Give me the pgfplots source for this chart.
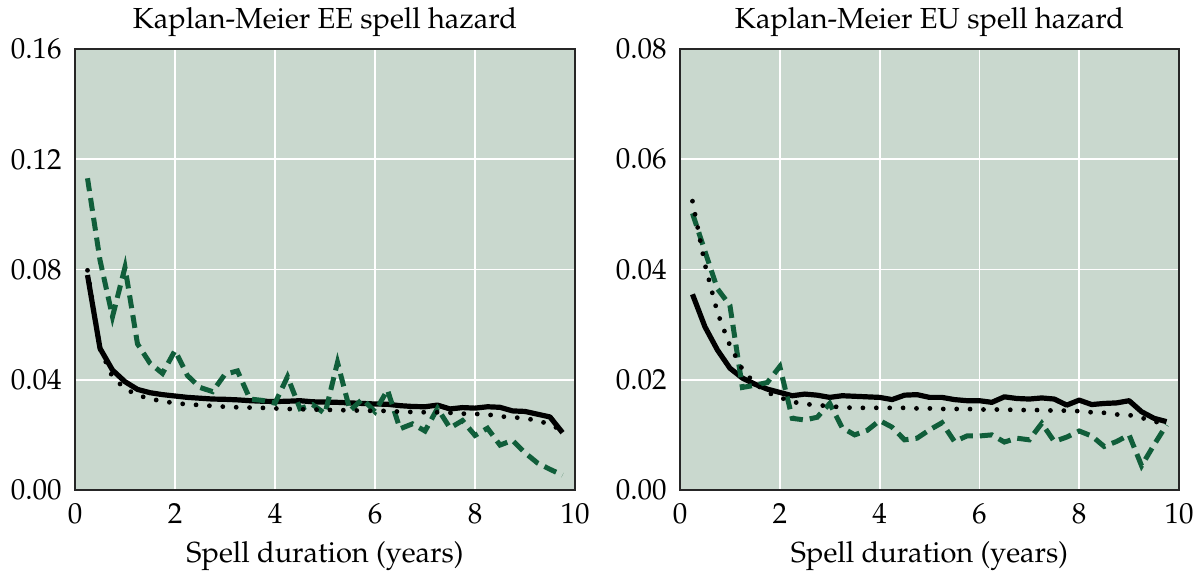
\documentclass[border=0pt]{standalone}
\usepackage[T1]{fontenc}
\usepackage{mathpazo}
\usepackage{pgfplots}
\pgfplotsset{compat=1.18}
\definecolor{bgc}{RGB}{201,216,206}
\definecolor{dgreen}{RGB}{16,94,58}

\pgfplotstableread{
x solid dotted dashed
0.25 0.0780 0.0797 0.1131
0.50 0.0514 0.0512 0.0834
0.75 0.0435 0.0410 0.0629
1.00 0.0393 0.0368 0.0808
1.25 0.0365 0.0344 0.0530
1.50 0.0353 0.0331 0.0460
1.75 0.0346 0.0322 0.0423
2.00 0.0341 0.0315 0.0506
2.25 0.0336 0.0311 0.0415
2.50 0.0333 0.0308 0.0372
2.75 0.0330 0.0305 0.0357
3.00 0.0329 0.0302 0.0420
3.25 0.0327 0.0300 0.0432
3.50 0.0324 0.0299 0.0330
3.75 0.0322 0.0298 0.0325
4.00 0.0321 0.0296 0.0315
4.25 0.0322 0.0294 0.0411
4.50 0.0324 0.0293 0.0295
4.75 0.0320 0.0292 0.0310
5.00 0.0319 0.0291 0.0277
5.25 0.0318 0.0290 0.0463
5.50 0.0316 0.0289 0.0288
5.75 0.0314 0.0288 0.0330
6.00 0.0312 0.0287 0.0284
6.25 0.0311 0.0287 0.0363
6.50 0.0306 0.0284 0.0222
6.75 0.0303 0.0283 0.0240
7.00 0.0302 0.0282 0.0214
7.25 0.0308 0.0282 0.0296
7.50 0.0294 0.0280 0.0225
7.75 0.0299 0.0277 0.0252
8.00 0.0297 0.0276 0.0198
8.25 0.0302 0.0274 0.0224
8.50 0.0300 0.0267 0.0163
8.75 0.0287 0.0264 0.0180
9.00 0.0285 0.0260 0.0135
9.25 0.0275 0.0252 0.0098
9.50 0.0265 0.0238 0.0075
9.75 0.0208 0.0215 0.0054
}\EEtable

\pgfplotstableread{
x solid dotted dashed
0.25 0.0355 0.0524 0.0502
0.50 0.0296 0.0409 0.0433
0.75 0.0254 0.0322 0.0365
1.00 0.0221 0.0262 0.0335
1.25 0.0203 0.0219 0.0186
1.50 0.0192 0.0193 0.0190
1.75 0.0183 0.0177 0.0195
2.00 0.0177 0.0168 0.0224
2.25 0.0171 0.0160 0.0130
2.50 0.0174 0.0156 0.0127
2.75 0.0172 0.0154 0.0132
3.00 0.0168 0.0152 0.0157
3.25 0.0171 0.0150 0.0113
3.50 0.0170 0.0149 0.0100
3.75 0.0169 0.0149 0.0108
4.00 0.0168 0.0149 0.0126
4.25 0.0164 0.0149 0.0114
4.50 0.0172 0.0149 0.0091
4.75 0.0173 0.0148 0.0094
5.00 0.0168 0.0148 0.0109
5.25 0.0168 0.0147 0.0122
5.50 0.0164 0.0147 0.0088
5.75 0.0162 0.0147 0.0098
6.00 0.0162 0.0146 0.0098
6.25 0.0159 0.0146 0.0100
6.50 0.0169 0.0146 0.0087
6.75 0.0166 0.0145 0.0094
7.00 0.0165 0.0145 0.0091
7.25 0.0167 0.0145 0.0121
7.50 0.0165 0.0144 0.0088
7.75 0.0154 0.0144 0.0096
8.00 0.0163 0.0143 0.0107
8.25 0.0155 0.0141 0.0098
8.50 0.0157 0.0140 0.0079
8.75 0.0158 0.0137 0.0088
9.00 0.0162 0.0136 0.0100
9.25 0.0142 0.0131 0.0044
9.50 0.0130 0.0124 0.0082
9.75 0.0124 0.0121 0.0118
}\EUtable

\begin{document}
\fontsize{14.5bp}{17bp}\selectfont
\begin{tikzpicture}
\useasboundingbox (0,0) rectangle (600bp,287bp);
\pgfplotsset{
  myax/.style={
    scale only axis, width=250bp, height=220.5bp,
    anchor=south west,
    xmin=0, xmax=10, ymin=0,
    xtick={0,2,4,6,8,10},
    axis background/.style={fill=bgc},
    grid=major, major grid style={white, line width=0.9bp},
    major tick length=0pt,
    axis line style={black!85, line width=0.8bp},
    xticklabel style={anchor=north, inner sep=0pt, yshift=-6.5bp},
    yticklabel style={anchor=east, inner sep=0pt, xshift=-6.5bp},
    yticklabel={\pgfmathprintnumber[fixed,fixed zerofill,precision=2]{\tick}},
    scaled y ticks=false,
    xlabel={Spell duration (years)},
    xlabel style={at={(axis description cs:0.5,0)}, anchor=base, inner sep=0pt, yshift=-36bp},
    title style={at={(axis description cs:0.5,1)}, anchor=base, inner sep=0pt, yshift=4.5bp},
  },
  solidl/.style={black, line width=2.6bp, line join=round, no marks},
  dotl/.style={black, line width=2.4bp, line cap=round, dash pattern=on 0bp off 6.7bp, no marks},
  dashl/.style={dgreen, line width=2.5bp, dash pattern=on 6.5bp off 3.5bp, no marks},
}
\begin{axis}[myax, at={(37.5bp,42bp)}, ymax=0.16, ytick={0,0.04,0.08,0.12,0.16},
  title={Kaplan-Meier EE spell hazard}]
\addplot[solidl] table[x=x,y=solid] {\EEtable};
\addplot[dashl] table[x=x,y=dashed] {\EEtable};
\addplot[dotl] table[x=x,y=dotted] {\EEtable};
\end{axis}
\begin{axis}[myax, at={(340bp,42bp)}, width=249.5bp, ymax=0.08, ytick={0,0.02,0.04,0.06,0.08},
  title={Kaplan-Meier EU spell hazard}]
\addplot[solidl] table[x=x,y=solid] {\EUtable};
\addplot[dashl] table[x=x,y=dashed] {\EUtable};
\addplot[dotl] table[x=x,y=dotted] {\EUtable};
\end{axis}
\end{tikzpicture}
\end{document}
